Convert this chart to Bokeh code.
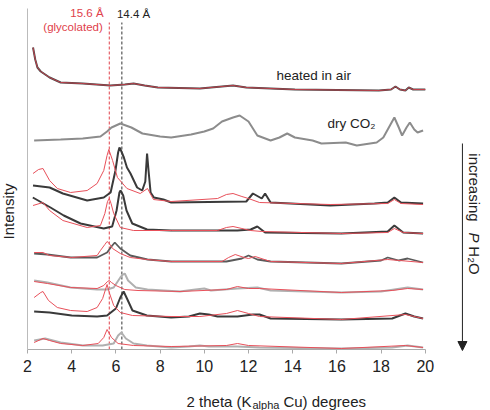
from bokeh.plotting import figure
from bokeh.models import Range1d, FixedTicker, Label, Arrow, NormalHead
from bokeh.embed import file_html
from bokeh.resources import INLINE

# ---------------- data (2theta in degrees, offset intensity) ----------------
air_x = [2.25, 2.35, 2.45, 2.6, 3.0, 3.5, 4.5, 5.75, 6.4, 6.8, 7.3, 7.9, 9.8, 11.3, 11.9, 14.1, 17.9, 18.45, 18.65, 18.85, 19.1, 19.25, 19.45, 20.0]
air_y = [302, 290, 282, 278, 272, 267, 266, 264, 265, 266, 264, 262, 261, 264, 262, 260, 259, 260, 263, 260, 259, 262, 260, 260]

co2_x = [2.3, 3.5, 4.5, 5.3, 5.6, 5.8, 6.2, 6.7, 7.2, 8.0, 8.5, 9.4, 10.0, 10.4, 10.8, 11.3, 11.6, 12.0, 12.4, 13.0, 13.4, 13.75, 14.1, 14.9, 15.3, 16.4, 16.9, 17.8, 18.1, 18.35, 18.6, 18.8, 18.95, 19.15, 19.3, 19.5, 19.65, 19.9]
co2_y = [209, 210, 211, 213, 218, 222, 226, 222, 216, 213, 212, 215, 218, 221, 228, 232, 234, 228, 214, 209, 212, 216, 212, 209, 206, 207, 204, 207, 212, 222, 232, 222, 214, 222, 227, 220, 217, 219]

s1_dark_x = [2.25, 3.0, 3.6, 4.7, 5.45, 5.76, 5.98, 6.1, 6.16, 6.25, 6.36, 6.5, 6.66, 6.96, 7.19, 7.33, 7.41, 7.48, 7.57, 7.72, 8.15, 8.5, 11.9, 12.2, 12.6, 12.75, 13.0, 15.7, 17.7, 18.3, 18.6, 18.9, 19.9]
s1_dark_y = [164, 162, 156, 149, 152, 157, 179, 197, 202, 198, 192, 182, 176, 162, 159, 168, 196, 178, 157, 152, 150, 147, 148, 156, 151, 156, 147, 144, 146, 147, 152, 147, 146]
s1_red_x = [2.25, 2.5, 2.7, 3.0, 3.35, 3.95, 4.7, 5.15, 5.45, 5.6, 5.68, 5.85, 6.07, 6.5, 7.1, 7.43, 7.7, 8.5, 10.6, 11.0, 11.3, 11.7, 12.0, 12.5, 15.7, 18.3, 18.6, 18.9, 19.9]
s1_red_y = [176, 180, 181, 169, 161, 157, 159, 166, 179, 194, 200, 189, 172, 161, 156, 161, 150, 148, 151, 155, 156, 153, 151, 147, 145, 146, 150, 146, 145]

s2_dark_x = [2.24, 3.04, 3.64, 4.4, 5.45, 5.83, 6.03, 6.16, 6.21, 6.33, 6.48, 6.74, 7.41, 8.5, 11.5, 12.1, 12.4, 12.75, 16.2, 18.3, 18.6, 19.0, 19.9]
s2_dark_y = [152, 142, 134, 126, 121, 123, 139, 157, 159, 154, 139, 126, 120, 119, 119, 120, 123, 117, 116, 118, 124, 117, 116]
s2_red_x = [2.25, 2.7, 3.0, 3.6, 4.7, 5.3, 5.5, 5.62, 5.7, 5.78, 5.9, 6.2, 6.8, 8.5, 10.6, 11.0, 11.3, 11.7, 12.1, 12.6, 16.2, 18.3, 18.6, 19.0, 19.9]
s2_red_y = [144, 147, 139, 129, 122, 124, 136, 148, 151, 146, 136, 122, 119, 119, 119, 122, 123, 121, 119, 118, 116, 117, 121, 117, 116]

s3_dark_x = [2.3, 2.9, 3.95, 5.15, 5.6, 5.8, 5.95, 6.2, 6.65, 7.43, 8.5, 11.0, 11.7, 12.0, 12.4, 13.0, 16.2, 18.0, 18.3, 18.8, 19.2, 19.9]
s3_dark_y = [96, 95, 92, 92, 97, 103, 107, 101, 94, 90, 88, 88, 91, 94, 90, 88, 86, 89, 92, 89, 91, 87]
s3_red_x = [2.3, 2.7, 3.0, 4.0, 5.15, 5.3, 5.5, 5.6, 5.7, 5.85, 6.2, 6.65, 7.4, 8.5, 10.8, 11.1, 11.4, 11.8, 12.0, 12.3, 13.0, 16.2, 18.3, 19.9]
s3_red_y = [97, 97, 94, 92, 94, 99, 105, 108, 106, 101, 96, 92, 90, 88, 88, 92, 95, 92, 91, 93, 88, 86, 90, 87]

s4_gray_x = [2.3, 2.9, 3.95, 5.15, 5.6, 5.9, 6.2, 6.32, 6.4, 6.55, 6.9, 7.43, 8.9, 9.6, 10.0, 10.3, 11.5, 12.4, 13.0, 16.2, 18.0, 19.2, 19.9]
s4_gray_y = [69, 67, 62, 60, 60, 62, 72, 75, 76, 69, 62, 60, 58, 60, 61, 59, 61, 62, 59, 57, 58, 62, 60]
s4_red_x = [2.3, 2.9, 3.95, 5.15, 5.45, 5.62, 5.7, 5.8, 6.0, 6.4, 7.0, 8.9, 11.0, 11.5, 12.0, 12.5, 16.2, 18.5, 19.2, 19.9]
s4_red_y = [68, 66, 62, 61, 64, 68, 69, 67, 64, 60, 59, 58, 60, 63, 61, 61, 57, 59, 61, 60]

s5_dark_x = [2.3, 3.0, 4.0, 5.15, 5.6, 6.0, 6.2, 6.35, 6.5, 6.75, 7.4, 8.5, 9.3, 9.8, 10.2, 10.6, 11.5, 12.2, 12.5, 13.0, 16.2, 18.5, 19.1, 19.5, 19.9]
s5_dark_y = [38, 37, 34, 33, 34, 41, 52, 58, 51, 39, 34, 32, 33, 36, 35, 33, 33, 35, 35, 31, 30, 31, 36, 33, 31]
s5_red_x = [2.3, 2.6, 2.7, 2.95, 3.35, 3.95, 4.7, 5.15, 5.4, 5.6, 5.7, 5.9, 6.2, 6.75, 8.5, 9.8, 11.0, 11.5, 12.0, 12.5, 16.2, 19.1, 19.9]
s5_red_y = [52, 57, 58, 49, 42, 39, 38, 42, 51, 65, 57, 44, 37, 34, 33, 33, 36, 39, 36, 33, 30, 35, 31]

s6_gray_x = [2.3, 2.8, 3.5, 4.5, 5.4, 5.9, 6.1, 6.25, 6.45, 6.8, 7.4, 8.5, 9.3, 9.8, 10.2, 11.5, 12.5, 16.2, 18.5, 19.2, 19.9]
s6_gray_y = [9, 11, 7, 4, 4, 6, 14, 17, 11, 6, 4, 2, 3, 4, 3, 3, 2, 1, 2, 4, 2]
s6_red_x = [2.3, 2.7, 3.0, 3.5, 4.5, 5.2, 5.45, 5.6, 5.8, 6.1, 6.8, 8.5, 11.0, 11.5, 12.0, 16.2, 19.1, 19.9]
s6_red_y = [7, 11, 9, 6, 4, 6, 12, 20, 12, 6, 4, 3, 4, 6, 4, 1, 4, 2]

ref_x = [5.7, 6.27]          # 15.6 A (glycolated) and 14.4 A positions
ref_top = [327, 327]
ref_colors = ["#e0404a", "#333333"]

x_ticks = [2, 4, 6, 8, 10, 12, 14, 16, 18, 20]

FONT = "Liberation Sans"
RED = "#e8505a"

# the frame covers the whole canvas; axes are pinned at x=2 / y=0
p = figure(width=490, height=410, output_backend="svg", toolbar_location=None,
           x_range=Range1d(0.778, 22.95), y_range=Range1d(-61, 349),
           min_border=0, min_border_left=0, min_border_right=0,
           min_border_top=0, min_border_bottom=0)
p.grid.visible = False
p.outline_line_color = None
p.background_fill_color = "white"

p.xaxis.fixed_location = 0
p.xaxis.bounds = (2, 20)
p.xaxis.ticker = FixedTicker(ticks=x_ticks)
p.xaxis.axis_line_color = "#aaaaaa"
p.xaxis.major_tick_line_color = "#aaaaaa"
p.xaxis.major_tick_out = 4
p.xaxis.major_tick_in = 0
p.xaxis.minor_tick_line_color = None
p.xaxis.major_label_text_font = FONT
p.xaxis.major_label_text_font_size = "16px"
p.xaxis.major_label_text_color = "#222222"
p.xaxis.major_label_standoff = 6

p.yaxis.fixed_location = 2
p.yaxis.bounds = (0, 341)
p.yaxis.ticker = FixedTicker(ticks=[])
p.yaxis.axis_line_color = "#bbbbbb"
p.yaxis.major_tick_line_color = None
p.yaxis.minor_tick_line_color = None

# reference dashed lines
p.segment(x0=ref_x, y0=[0, 0], x1=ref_x, y1=ref_top, line_color=ref_colors,
          line_width=1, line_dash="3 2")

DARK = "#3a3a3a"
# traces
p.line(air_x, air_y, line_color="#4a4a4a", line_width=2)
p.line(air_x, air_y, line_color="#c0404a", line_width=1)
p.line(co2_x, co2_y, line_color="#8c8c8c", line_width=2)
p.line(s1_dark_x, s1_dark_y, line_color=DARK, line_width=2)
p.line(s1_red_x, s1_red_y, line_color=RED, line_width=1)
p.line(s2_dark_x, s2_dark_y, line_color=DARK, line_width=2)
p.line(s2_red_x, s2_red_y, line_color=RED, line_width=1)
p.line(s3_dark_x, s3_dark_y, line_color="#5a5a5a", line_width=1.8)
p.line(s3_red_x, s3_red_y, line_color=RED, line_width=1)
p.line(s4_gray_x, s4_gray_y, line_color="#b0b0b0", line_width=2)
p.line(s4_red_x, s4_red_y, line_color=RED, line_width=1)
p.line(s5_dark_x, s5_dark_y, line_color=DARK, line_width=2)
p.line(s5_red_x, s5_red_y, line_color=RED, line_width=1)
p.line(s6_gray_x, s6_gray_y, line_color="#b0b0b0", line_width=2)
p.line(s6_red_x, s6_red_y, line_color=RED, line_width=1)

def lab(x, y, text, size, color="#222222", align="left", baseline="middle", angle=0, style="normal"):
    p.add_layout(Label(x=x, y=y, text=text, text_font=FONT, text_font_size=size,
                       text_color=color, text_align=align, text_baseline=baseline,
                       angle=angle, angle_units="deg", text_font_style=style))

lab(4.69, 337, "15.6 Å", "11.5px", color="#e0404a", align="center")
lab(4.06, 323, "(glycolated)", "11.5px", color="#e0404a", align="center")
lab(6.80, 336, "14.4 Å", "11.5px", color="#222222", align="center")
lab(13.27, 274, "heated in air", "13.5px")
lab(15.57, 226, "dry CO₂", "13.5px")

# y label
lab(1.14, 138, "Intensity", "15px", align="center", angle=90)

# x label with subscript
lab(12.14, -52, "2 theta (K", "15px", align="right", baseline="alphabetic")
lab(12.18, -55.5, "alpha", "11px", align="left", baseline="alphabetic")
lab(13.58, -52, " Cu) degrees", "15px", align="left", baseline="alphabetic")

# right-hand arrow and text
p.add_layout(Arrow(end=NormalHead(size=9, fill_color="#222222", line_color="#222222"),
                   x_start=21.68, y_start=206, x_end=21.68, y_end=-1,
                   line_color="#222222", line_width=1))
lab(22.23, 162, "increasing", "15px", align="center", angle=-90)
lab(22.23, 112, "P", "15px", align="center", angle=-90, style="italic")
lab(22.23, 89, "H₂O", "15px", align="center", angle=-90)

open("out.html", "w").write(file_html(p, INLINE))
